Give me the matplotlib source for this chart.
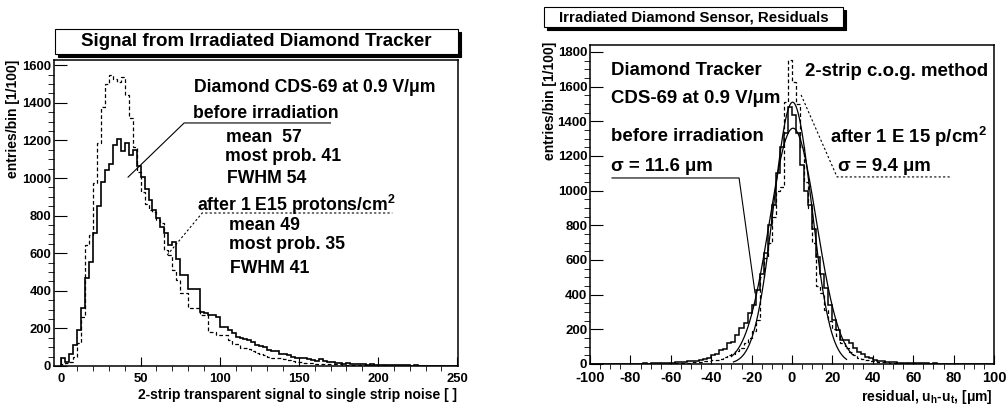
import numpy as np
import matplotlib
matplotlib.use('Agg')
import matplotlib.pyplot as plt
from matplotlib.patches import Rectangle
from matplotlib.ticker import MultipleLocator

plt.rcParams['font.family'] = ['Liberation Sans', 'DejaVu Sans']
plt.rcParams['font.weight'] = 'bold'
plt.rcParams['axes.unicode_minus'] = False
plt.rcParams['mathtext.fontset'] = 'custom'
plt.rcParams['mathtext.rm'] = 'Liberation Sans:bold'
plt.rcParams['mathtext.bf'] = 'Liberation Sans:bold'
plt.rcParams['mathtext.it'] = 'Liberation Sans:bold'
plt.rcParams['mathtext.default'] = 'rm'

# ---- left panel: signal/noise histograms, bins of 2.5 from 0 to 250
sn_edges = np.arange(0, 250.1, 2.5)
sn_before = [40, 20, 65, 112, 190, 308, 468, 555, 710, 852,
             980, 1042, 1077, 1175, 1207, 1145, 1184, 1122, 1148, 1063,
             1006, 944, 882, 829, 790, 740, 705, 643, 661, 567,
             484, 484, 410, 410, 410, 289, 280, 271, 271, 260,
             209, 205, 190, 175, 154, 150, 145, 138, 130, 112,
             108, 100, 85, 80, 78, 66, 62, 58, 50, 45,
             40, 45, 38, 30, 28, 38, 25, 22, 20, 18,
             15, 12, 14, 10, 12, 8, 10, 7, 8, 6,
             5, 7, 5, 4, 5, 3, 4, 3, 2, 3,
             2, 2, 1, 2, 1, 1, 1, 1, 0, 1]
sn_after = [10, 15, 23, 50, 120, 262, 643, 696, 975, 1187,
            1379, 1500, 1547, 1529, 1512, 1535, 1441, 1317, 1166, 1033,
            927, 860, 830, 821, 777, 760, 617, 590, 511, 457,
            390, 390, 308, 308, 308, 271, 271, 183, 183, 165,
            165, 165, 140, 117, 117, 96, 96, 90, 80, 69,
            65, 60, 50, 45, 43, 40, 35, 30, 25, 23,
            20, 18, 16, 15, 13, 12, 11, 10, 9, 8,
            8, 7, 6, 6, 5, 5, 4, 4, 4, 3,
            3, 3, 2, 2, 2, 2, 2, 1, 1, 1,
            1, 1, 1, 1, 0, 1, 0, 0, 0, 0]

# ---- right panel: residuals, bins of 2 um from -100 to 100
res_edges = np.arange(-100, 100.1, 2)
res_before = [0, 1, 0, 1, 1, 0, 1, 2, 1, 1, 2, 2, 1, 3, 2, 3, 4, 3, 5, 6,
              8, 10, 11, 13, 15, 17, 20, 22, 27, 33,
              52, 55, 81, 85, 119, 129, 167, 207, 236, 294,
              340, 427, 520, 640, 800, 920, 1100, 1250, 1330, 1485,
              1437, 1333, 1150, 1000, 917, 780, 620, 520, 440, 340,
              254, 196, 138, 138, 119, 90, 70, 55, 40, 33,
              25, 20, 17, 14, 12, 10, 8, 7, 6, 5,
              4, 4, 3, 3, 2, 3, 2, 1, 2, 1, 1, 1, 0, 1, 1, 0, 1, 0, 0, 1]
res_after = [0, 0, 1, 0, 1, 0, 1, 1, 0, 1, 1, 1, 2, 1, 2, 2, 2, 3, 2, 3,
             3, 4, 5, 6, 8, 9, 10, 12, 15, 18,
             22, 25, 30, 40, 50, 60, 75, 90, 120, 150,
             190, 254, 500, 612, 700, 850, 1000, 1023, 1513, 1754,
             1629, 1500, 1250, 1050, 900, 697, 450, 408, 311, 250,
             200, 160, 120, 90, 70, 50, 35, 28, 22, 18,
             15, 13, 11, 9, 8, 7, 6, 5, 4, 4,
             3, 3, 2, 2, 2, 1, 2, 1, 1, 1, 1, 0, 1, 0, 0, 1, 0, 0, 0, 0]

# gaussian fits (amplitude, mean, sigma, range)
fit_before = (1360, 0.5, 11.6, -30, 30)
fit_after = (1510, 0.3, 9.4, -29, 27)

W, H = 1008, 404
fig = plt.figure(figsize=(W / 100, H / 100), dpi=100)


def fx(px):
    return px / W


def fy(py):
    return 1 - py / H


def title_box(x0, y0, x1, y1, text, size):
    # ROOT style pave with shadow
    fig.patches.append(Rectangle((fx(x0 + 3), fy(y1 + 3)), fx(x1 - x0), (y1 - y0) / H,
                                 transform=fig.transFigure, facecolor='black',
                                 edgecolor='black', lw=0.8, zorder=1))
    fig.patches.append(Rectangle((fx(x0), fy(y1)), fx(x1 - x0), (y1 - y0) / H,
                                 transform=fig.transFigure, facecolor='white',
                                 edgecolor='black', lw=0.8, zorder=2))
    fig.text(fx((x0 + x1) / 2), fy((y0 + y1) / 2), text, ha='center', va='center',
             fontsize=size, fontweight='bold', zorder=3)


def style_axes(ax, xmaj, xmin, ymaj, ymin, xsize, ysize):
    ax.xaxis.set_major_locator(MultipleLocator(xmaj))
    ax.xaxis.set_minor_locator(MultipleLocator(xmin))
    ax.yaxis.set_major_locator(MultipleLocator(ymaj))
    ax.yaxis.set_minor_locator(MultipleLocator(ymin))
    ax.tick_params(direction='in', top=False, right=False, width=0.8)
    ax.tick_params(axis='x', which='major', length=6.5, pad=5, labelsize=xsize)
    ax.tick_params(axis='x', which='minor', length=3.5)
    ax.tick_params(axis='y', which='major', length=9, pad=2, labelsize=ysize)
    ax.tick_params(axis='y', which='minor', length=4.5)
    for s in ax.spines.values():
        s.set_linewidth(1.1)


# ================= left panel =================
ax1 = fig.add_axes([fx(54), fy(366), fx(458 - 54), (366 - 60) / H])
ax1.stairs(sn_after, sn_edges, color='black', lw=0.9, linestyle=(0, (3, 2)))
ax1.stairs(sn_before, sn_edges, color='black', lw=1.2)
ax1.set_xlim(-4.7, 250.5)
ax1.set_ylim(0, 1628)
style_axes(ax1, 50, 10, 200, 50, 9.4, 9.4)

fs1 = 12.7
ax1.text(83.5, 1484, 'Diamond CDS-69 at 0.9 V/μm', fontsize=fs1, va='center')
ax1.text(83.2, 1346, 'before irradiation', fontsize=fs1, va='center')
ax1.plot([42.1, 77.5, 169.9], [1005, 1293, 1293], color='black', lw=0.8)
ax1.text(104, 1218, 'mean  57', fontsize=fs1, va='center')
ax1.text(103.3, 1117, 'most prob. 41', fontsize=fs1, va='center')
ax1.text(104.6, 1000, 'FWHM 54', fontsize=fs1, va='center')
ax1.text(85.6, 858, 'after 1 E15 protons/cm$^{2}$', fontsize=fs1, va='center')
ax1.plot([66.8, 88.9, 209], [590, 814, 814], color='black', lw=0.8, linestyle=(0, (2, 2)))
ax1.text(105.9, 750, 'mean 49', fontsize=fs1, va='center')
ax1.text(105.9, 644, 'most prob. 35', fontsize=fs1, va='center')
ax1.text(106.5, 521, 'FWHM 41', fontsize=fs1, va='center')

fig.text(fx(457), fy(395), '2-strip transparent signal to single strip noise [ ]',
         ha='right', va='center', fontsize=10, fontweight='bold')
fig.text(fx(13), fy(60), 'entries/bin [1/100]', rotation=90, ha='center', va='top',
         fontsize=10, fontweight='bold')
title_box(55, 29, 458, 54, 'Signal from Irradiated Diamond Tracker', 13.5)

# ================= right panel =================
ax2 = fig.add_axes([fx(590), fy(364), fx(994 - 590), (364 - 45) / H])
ax2.stairs(res_after, res_edges, color='black', lw=0.9, linestyle=(0, (3, 2)))
ax2.stairs(res_before, res_edges, color='black', lw=1.1)
for amp, mu, sig, lo, hi in (fit_before, fit_after):
    xs = np.linspace(lo, hi, 200)
    ax2.plot(xs, amp * np.exp(-0.5 * ((xs - mu) / sig) ** 2), color='black', lw=0.9)
ax2.set_xlim(-100, 100)
ax2.set_ylim(0, 1840)
style_axes(ax2, 20, 5, 200, 50, 10.5, 9.5)

fs2 = 13.4
ax2.text(-89.5, 1695, 'Diamond Tracker', fontsize=fs2, va='center')
ax2.text(-89.5, 1530, 'CDS-69 at 0.9 V/μm', fontsize=fs2, va='center')
ax2.text(-89.5, 1310, 'before irradiation', fontsize=fs2, va='center')
ax2.text(-89.5, 1137, 'σ = 11.6 μm', fontsize=fs2, va='center')
ax2.plot([-18.3, -26.2, -89.1], [410, 1073, 1073], color='black', lw=0.8)
ax2.text(6.4, 1685, '2-strip c.o.g. method', fontsize=fs2, va='center')
ax2.text(18.8, 1310, 'after 1 E 15 p/cm$^{2}$', fontsize=fs2, va='center')
ax2.text(22.8, 1137, 'σ = 9.4 μm', fontsize=fs2, va='center')
ax2.plot([4.5, 22.3, 79.2], [1552, 1079, 1079], color='black', lw=0.8, linestyle=(0, (2, 2)))

fig.text(fx(993), fy(397), 'residual, u$_{h}$-u$_{t}$, [μm]', ha='right', va='center',
         fontsize=10, fontweight='bold')
fig.text(fx(550), fy(42), 'entries/bin [1/100]', rotation=90, ha='center', va='top',
         fontsize=10, fontweight='bold')
title_box(544, 7, 843, 27, 'Irradiated Diamond Sensor, Residuals', 10.8)

fig.savefig('out.png', dpi=100)
